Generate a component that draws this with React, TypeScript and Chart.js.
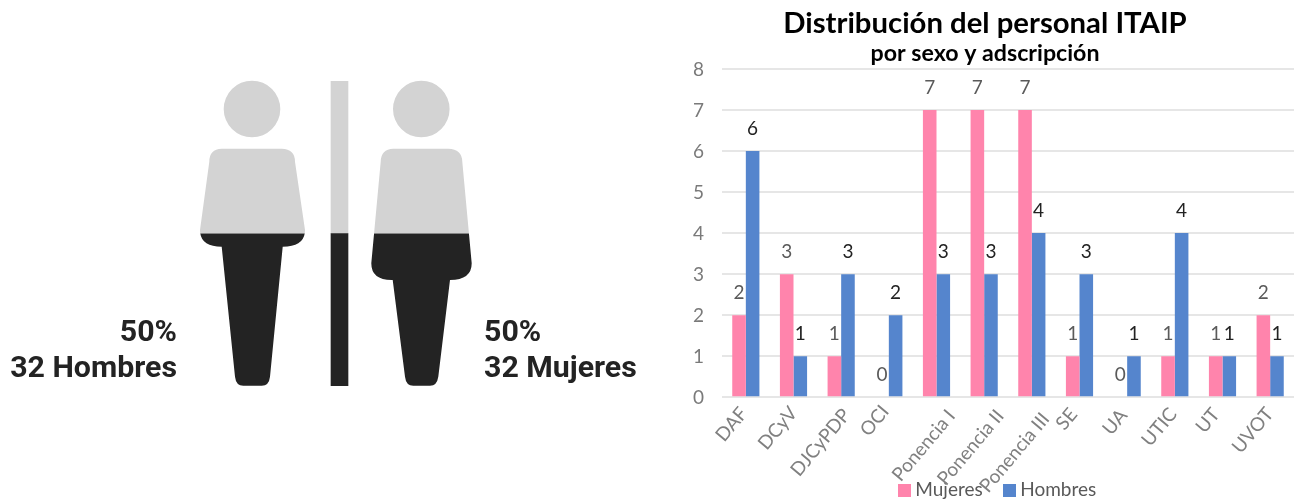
import React, { useEffect, useRef } from "react";
import { Chart, registerables } from "chart.js";

Chart.register(...registerables);

const categories = ["DAF", "DCyV", "DJCyPDP", "OCI", "Ponencia I", "Ponencia II", "Ponencia III", "SE", "UA", "UTIC", "UT", "UVOT"];
const mujeres = [2, 3, 1, 0, 7, 7, 7, 1, 0, 1, 1, 2];
const hombres = [6, 1, 3, 2, 3, 3, 4, 3, 1, 4, 1, 1];
const yTicks = [0, 1, 2, 3, 4, 5, 6, 7, 8];
const shareHombres = [50];
const shareMujeres = [50];

const PINK = "#ff84ac";
const BLUE = "#5585cd";
const LIGHT = "#d3d3d3";
const DARK = "#232323";
const FONT = "Lato, sans-serif";

// small nudges for the slanted category labels, which the original placed unevenly
const labelShiftX = [-2, 0, 5.5, -3.5, 15, 16, 14, -6, -3.5, -1.5, -6.5, -0.5];
const labelShiftY = [3.5, 3, 5, 1.5, 6, 6, 9, 4.5, 5.5, 4, 4.5, 4];

function swatch(color: string) {
  const c = document.createElement("canvas");
  c.width = 13;
  c.height = 13;
  const g = c.getContext("2d")!;
  g.fillStyle = color;
  g.fillRect(0, 0, 13, 13);
  return c;
}

const dataLabels = {
  id: "dataLabels",
  afterDatasetsDraw(chart: any) {
    const { ctx } = chart;
    ctx.save();
    ctx.font = `19px ${FONT}`;
    ctx.textAlign = "center";
    ctx.textBaseline = "middle";
    chart.data.datasets.forEach((ds: any, di: number) => {
      ctx.fillStyle = di === 0 ? "#5a5a5a" : "#222222";
      chart.getDatasetMeta(di).data.forEach((bar: any, i: number) => {
        ctx.fillText(String(ds.data[i]), bar.x, bar.y - 22);
      });
    });
    ctx.restore();
  },
};

const shiftLabels = {
  id: "shiftLabels",
  afterLayout(chart: any) {
    const lg = chart.legend;
    lg.left += 15;
    lg.right += 15;
    lg.top += 7.5;
    lg.bottom += 7.5;
    chart.scales.x.bottom = chart.height;
  },
  beforeDraw(chart: any) {
    const xItems = chart.scales.x.getLabelItems(chart.chartArea);
    if (!xItems.__shifted) {
      xItems.__shifted = true;
      xItems.forEach((it: any, i: number) => {
        it.options.translation[0] += labelShiftX[i] || 0;
        it.options.translation[1] += labelShiftY[i] || 0;
      });
    }
    const yItems = chart.scales.y.getLabelItems(chart.chartArea);
    if (!yItems.__shifted) {
      yItems.__shifted = true;
      yItems.forEach((it: any) => {
        it.options.translation[1] += 1;
      });
    }
  },
};

function headAndBody(ctx: any, cx: number, pts: any[]) {
  ctx.beginPath();
  ctx.arc(cx, 109, 28.3, 0, Math.PI * 2);
  ctx.closePath();
  const [first, ...rest] = pts;
  ctx.moveTo(first[0], first[1]);
  rest.forEach((p: number[]) => {
    if (p.length === 2) ctx.lineTo(p[0], p[1]);
    else ctx.quadraticCurveTo(p[0], p[1], p[2], p[3]);
  });
  ctx.closePath();
}

const manOutline = [
  [221.7, 148.7], [209.3, 149, 209.3, 161.7], [200, 230],
  [200, 246.7, 221.7, 246.7], [235, 376.7], [236, 385.7, 243.3, 385.7],
  [261.7, 385.7], [269, 385.7, 270, 376.7], [282.7, 246.7],
  [305, 246.7, 305, 230], [295, 161.7], [295, 149, 281.7, 148.7],
];
const womanOutline = [
  [393.3, 148.7], [381, 149, 380.7, 161.7], [371.3, 263.3],
  [371.3, 280, 391.7, 280], [392.7, 280], [405, 376.7],
  [406, 385.7, 413.3, 385.7], [430, 385.7], [437, 385.7, 438.3, 376.7],
  [450, 280], [471.7, 280, 471.7, 263.3], [462.3, 161.7], [462, 149, 448.3, 148.7],
];

const figures = {
  id: "figures",
  afterDatasetsDraw(chart: any) {
    const { ctx, scales, width, height } = chart;
    const split = scales.y.getPixelForValue(shareHombres[0]);
    const paint = (top: number, h: number, color: string) => {
      ctx.save();
      ctx.beginPath();
      ctx.rect(0, top, width, h);
      ctx.clip();
      ctx.fillStyle = color;
      headAndBody(ctx, 252, manOutline);
      ctx.fill();
      headAndBody(ctx, 421.3, womanOutline);
      ctx.fill();
      ctx.restore();
    };
    paint(0, split, LIGHT);
    paint(split, height - split, DARK);
  },
};

function useChart(make: (c: HTMLCanvasElement) => Chart) {
  const ref = useRef<HTMLCanvasElement>(null);
  useEffect(() => {
    const chart = make(ref.current!);
    return () => chart.destroy();
  }, []);
  return ref;
}

const textStyle: React.CSSProperties = {
  position: "absolute",
  top: 313,
  fontFamily: "Roboto, sans-serif",
  fontWeight: 700,
  fontSize: 30.3,
  lineHeight: "36px",
  color: "#232323",
  whiteSpace: "nowrap",
};

export default function App() {
  const leftRef = useChart(
    (c) =>
      new Chart(c, {
        type: "bar",
        data: {
          labels: ["Total"],
          datasets: [
            { label: "Mujeres", data: shareMujeres, backgroundColor: DARK, barThickness: 17 },
            { label: "Hombres", data: shareHombres, backgroundColor: LIGHT, barThickness: 17 },
          ],
        },
        options: {
          animation: false,
          responsive: false,
          layout: { padding: { left: 19, top: 81, bottom: 116 } },
          plugins: { legend: { display: false }, title: { display: false }, tooltip: { enabled: false } },
          scales: {
            x: { stacked: true, display: false },
            y: { stacked: true, display: false, min: 0, max: 100 },
          },
        },
        plugins: [figures],
      } as any)
  );

  const rightRef = useChart(
    (c) =>
      new Chart(c, {
        type: "bar",
        data: {
          labels: categories,
          datasets: [
            { label: "Mujeres", data: mujeres, backgroundColor: PINK, pointStyle: swatch(PINK), categoryPercentage: 0.57, barPercentage: 1 },
            { label: "Hombres", data: hombres, backgroundColor: BLUE, pointStyle: swatch(BLUE), categoryPercentage: 0.57, barPercentage: 1 },
          ],
        },
        options: {
          animation: false,
          responsive: false,
          layout: { padding: { left: 2, right: 2 } },
          plugins: {
            tooltip: { enabled: false },
            title: {
              display: true,
              text: "Distribución del personal ITAIP",
              color: "#000000",
              font: { family: FONT, size: 29.3, weight: "bold" },
              padding: { top: 6, bottom: -2 },
            },
            subtitle: {
              display: true,
              text: "por sexo y adscripción",
              color: "#000000",
              font: { family: FONT, size: 23.2, weight: "bold" },
              padding: { top: 0, bottom: 2 },
            },
            legend: {
              position: "bottom",
              labels: {
                color: "#595959",
                font: { family: FONT, size: 19 },
                usePointStyle: true,
                pointStyleWidth: 2,
                boxHeight: 13,
                padding: 26,
              },
            },
          },
          scales: {
            x: {
              grid: { display: false },
              border: { display: false },
              ticks: { color: "#808080", font: { family: FONT, size: 19 }, minRotation: 50, maxRotation: 50, autoSkip: false, padding: -6 },
              afterFit(s: any) {
                s.height = 49.8;
              },
            },
            y: {
              min: 0,
              max: 8,
              afterBuildTicks(s: any) {
                s.ticks = yTicks.map((v) => ({ value: v }));
              },
              afterFit(s: any) {
                s.width = 46;
              },
              grid: { color: "#e6e6e6", lineWidth: 2, drawTicks: false },
              border: { display: false },
              ticks: { color: "#7a7a7a", font: { family: FONT, size: 19 }, padding: 18 },
            },
          },
        },
        plugins: [dataLabels, shiftLabels],
      } as any)
  );

  return (
    <div style={{ position: "absolute", left: 0, top: 0, width: 1296, height: 502, background: "#fff", overflow: "hidden" }}>
      <canvas ref={leftRef} width={660} height={502} style={{ position: "absolute", left: 0, top: 0 }} />
      <canvas ref={rightRef} width={622} height={502} style={{ position: "absolute", left: 674, top: 0, filter: "blur(0.4px)" }} />
      <div style={{ ...textStyle, right: 1296 - 177, textAlign: "right" }}>
        50%
        <br />
        32 Hombres
      </div>
      <div style={{ ...textStyle, left: 484 }}>
        50%
        <br />
        32 Mujeres
      </div>
    </div>
  );
}
